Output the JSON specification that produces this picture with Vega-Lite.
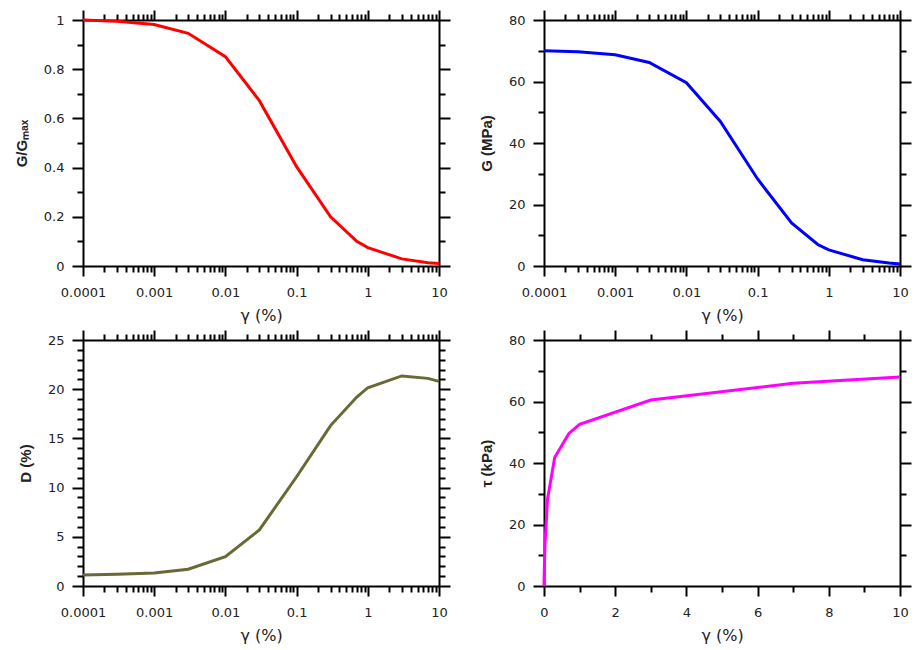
{
  "$schema": "https://vega.github.io/schema/vega-lite/v6.json",
  "padding": {"left": 14, "top": 9, "right": 8, "bottom": 5},
  "background": "white",
  "datasets": {
    "gg": [
      {"g": 0.0001, "r": 1.0}, {"g": 0.0003, "r": 0.995}, {"g": 0.001, "r": 0.982}, {"g": 0.003, "r": 0.946},
      {"g": 0.01, "r": 0.851}, {"g": 0.03, "r": 0.672}, {"g": 0.1, "r": 0.404}, {"g": 0.3, "r": 0.2},
      {"g": 0.7, "r": 0.1}, {"g": 1, "r": 0.075}, {"g": 3, "r": 0.029}, {"g": 7, "r": 0.0134}, {"g": 10, "r": 0.0097}
    ],
    "gm": [
      {"g": 0.0001, "G": 70.0}, {"g": 0.0003, "G": 69.7}, {"g": 0.001, "G": 68.7}, {"g": 0.003, "G": 66.2},
      {"g": 0.01, "G": 59.6}, {"g": 0.03, "G": 47.0}, {"g": 0.1, "G": 28.3}, {"g": 0.3, "G": 14.0},
      {"g": 0.7, "G": 7.0}, {"g": 1, "G": 5.25}, {"g": 3, "G": 2.03}, {"g": 7, "G": 0.94}, {"g": 10, "G": 0.68}
    ],
    "dd": [
      {"g": 0.0001, "D": 1.12}, {"g": 0.0003, "D": 1.2}, {"g": 0.001, "D": 1.32}, {"g": 0.003, "D": 1.7},
      {"g": 0.01, "D": 2.98}, {"g": 0.03, "D": 5.7}, {"g": 0.1, "D": 11.1}, {"g": 0.3, "D": 16.3},
      {"g": 0.7, "D": 19.2}, {"g": 1, "D": 20.15}, {"g": 3, "D": 21.35}, {"g": 7, "D": 21.1}, {"g": 10, "D": 20.8}
    ],
    "tt": [
      {"g": 0, "t": 0}, {"g": 0.001, "t": 0.69}, {"g": 0.003, "t": 1.99}, {"g": 0.01, "t": 5.96},
      {"g": 0.03, "t": 14.1}, {"g": 0.1, "t": 28.3}, {"g": 0.3, "t": 41.8}, {"g": 0.7, "t": 49.6},
      {"g": 1, "t": 52.6}, {"g": 3, "t": 60.5}, {"g": 7, "t": 65.9}, {"g": 10, "t": 68.0}
    ]
  },
  "columns": 2,
  "spacing": {"row": 74, "column": 105},
  "bounds": "flush",
  "concat": [
    {
      "width": 356, "height": 246,
      "data": {"name": "gg"},
      "layer": [
        {"mark": {"type": "line", "color": "#ff0000", "strokeWidth": 3},
         "encoding": {
           "x": {"field": "g", "type": "quantitative", "scale": {"type": "log", "domain": [0.0001, 10]},
                 "axis": {"orient": "bottom", "values": [0.0001, 0.001, 0.01, 0.1, 1, 10], "format": "~g", "tickSize": 10, "labelPadding": 10, "title": "γ (%)", "titleFontWeight": "normal", "titleFont": "DejaVu Sans", "titleFontSize": 16, "titlePadding": 8}},
           "y": {"field": "r", "type": "quantitative", "scale": {"domain": [0, 1]},
                 "axis": {"orient": "left", "values": [0, 0.2, 0.4, 0.6, 0.8, 1], "format": "~g", "tickSize": 11, "labelPadding": 8, "title": "G/Gₘₐₓ", "titlePadding": 14}}}},
        {"mark": {"type": "line", "strokeOpacity": 0},
         "encoding": {
           "x": {"field": "g", "type": "quantitative", "scale": {"type": "log", "domain": [0.0001, 10]},
                 "axis": {"orient": "bottom", "values": [0.0002,0.0003,0.0004,0.0005,0.0006,0.0007,0.0008,0.0009,0.002,0.003,0.004,0.005,0.006,0.007,0.008,0.009,0.02,0.03,0.04,0.05,0.06,0.07,0.08,0.09,0.2,0.3,0.4,0.5,0.6,0.7,0.8,0.9,2,3,4,5,6,7,8,9], "tickSize": 6, "labels": false, "domain": false, "title": null}},
           "y": {"field": "r", "type": "quantitative", "scale": {"domain": [0, 1]},
                 "axis": {"orient": "left", "values": [0.1, 0.3, 0.5, 0.7, 0.9], "tickSize": 6, "labels": false, "domain": false, "title": null}}}},
        {"mark": {"type": "line", "strokeOpacity": 0},
         "encoding": {
           "x": {"field": "g", "type": "quantitative", "scale": {"type": "log", "domain": [0.0001, 10]},
                 "axis": {"orient": "top", "values": [0.0001, 0.001, 0.01, 0.1, 1, 10], "tickSize": 10, "labels": false, "title": null}},
           "y": {"field": "r", "type": "quantitative", "scale": {"domain": [0, 1]},
                 "axis": {"orient": "right", "values": [0, 0.2, 0.4, 0.6, 0.8, 1], "tickSize": 11, "labels": false, "title": null}}}},
        {"mark": {"type": "line", "strokeOpacity": 0},
         "encoding": {
           "x": {"field": "g", "type": "quantitative", "scale": {"type": "log", "domain": [0.0001, 10]},
                 "axis": {"orient": "top", "values": [0.0002,0.0003,0.0004,0.0005,0.0006,0.0007,0.0008,0.0009,0.002,0.003,0.004,0.005,0.006,0.007,0.008,0.009,0.02,0.03,0.04,0.05,0.06,0.07,0.08,0.09,0.2,0.3,0.4,0.5,0.6,0.7,0.8,0.9,2,3,4,5,6,7,8,9], "tickSize": 6, "labels": false, "domain": false, "title": null}},
           "y": {"field": "r", "type": "quantitative", "scale": {"domain": [0, 1]},
                 "axis": {"orient": "right", "values": [0.1, 0.3, 0.5, 0.7, 0.9], "tickSize": 6, "labels": false, "domain": false, "title": null}}}}
      ],
      "resolve": {"axis": {"x": "independent", "y": "independent"}}
    },
    {
      "width": 356, "height": 246,
      "data": {"name": "gm"},
      "layer": [
        {"mark": {"type": "line", "color": "#0000ff", "strokeWidth": 3},
         "encoding": {
           "x": {"field": "g", "type": "quantitative", "scale": {"type": "log", "domain": [0.0001, 10]},
                 "axis": {"orient": "bottom", "values": [0.0001, 0.001, 0.01, 0.1, 1, 10], "format": "~g", "tickSize": 10, "labelPadding": 10, "title": "γ (%)", "titleFontWeight": "normal", "titleFont": "DejaVu Sans", "titleFontSize": 16, "titlePadding": 8}},
           "y": {"field": "G", "type": "quantitative", "scale": {"domain": [0, 80]},
                 "axis": {"orient": "left", "values": [0, 20, 40, 60, 80], "tickSize": 11, "labelPadding": 8, "title": "G (MPa)", "titlePadding": 14}}}},
        {"mark": {"type": "line", "strokeOpacity": 0},
         "encoding": {
           "x": {"field": "g", "type": "quantitative", "scale": {"type": "log", "domain": [0.0001, 10]},
                 "axis": {"orient": "bottom", "values": [0.0002,0.0003,0.0004,0.0005,0.0006,0.0007,0.0008,0.0009,0.002,0.003,0.004,0.005,0.006,0.007,0.008,0.009,0.02,0.03,0.04,0.05,0.06,0.07,0.08,0.09,0.2,0.3,0.4,0.5,0.6,0.7,0.8,0.9,2,3,4,5,6,7,8,9], "tickSize": 6, "labels": false, "domain": false, "title": null}},
           "y": {"field": "G", "type": "quantitative", "scale": {"domain": [0, 80]},
                 "axis": {"orient": "left", "values": [10, 30, 50, 70], "tickSize": 6, "labels": false, "domain": false, "title": null}}}},
        {"mark": {"type": "line", "strokeOpacity": 0},
         "encoding": {
           "x": {"field": "g", "type": "quantitative", "scale": {"type": "log", "domain": [0.0001, 10]},
                 "axis": {"orient": "top", "values": [0.0001, 0.001, 0.01, 0.1, 1, 10], "tickSize": 10, "labels": false, "title": null}},
           "y": {"field": "G", "type": "quantitative", "scale": {"domain": [0, 80]},
                 "axis": {"orient": "right", "values": [0, 20, 40, 60, 80], "tickSize": 11, "labels": false, "title": null}}}},
        {"mark": {"type": "line", "strokeOpacity": 0},
         "encoding": {
           "x": {"field": "g", "type": "quantitative", "scale": {"type": "log", "domain": [0.0001, 10]},
                 "axis": {"orient": "top", "values": [0.0002,0.0003,0.0004,0.0005,0.0006,0.0007,0.0008,0.0009,0.002,0.003,0.004,0.005,0.006,0.007,0.008,0.009,0.02,0.03,0.04,0.05,0.06,0.07,0.08,0.09,0.2,0.3,0.4,0.5,0.6,0.7,0.8,0.9,2,3,4,5,6,7,8,9], "tickSize": 6, "labels": false, "domain": false, "title": null}},
           "y": {"field": "G", "type": "quantitative", "scale": {"domain": [0, 80]},
                 "axis": {"orient": "right", "values": [10, 30, 50, 70], "tickSize": 6, "labels": false, "domain": false, "title": null}}}}
      ],
      "resolve": {"axis": {"x": "independent", "y": "independent"}}
    },
    {
      "width": 356, "height": 246,
      "data": {"name": "dd"},
      "layer": [
        {"mark": {"type": "line", "color": "#696935", "strokeWidth": 3},
         "encoding": {
           "x": {"field": "g", "type": "quantitative", "scale": {"type": "log", "domain": [0.0001, 10]},
                 "axis": {"orient": "bottom", "values": [0.0001, 0.001, 0.01, 0.1, 1, 10], "format": "~g", "tickSize": 10, "labelPadding": 10, "title": "γ (%)", "titleFontWeight": "normal", "titleFont": "DejaVu Sans", "titleFontSize": 16, "titlePadding": 8}},
           "y": {"field": "D", "type": "quantitative", "scale": {"domain": [0, 25]},
                 "axis": {"orient": "left", "values": [0, 5, 10, 15, 20, 25], "tickSize": 11, "labelPadding": 8, "title": "D (%)", "titlePadding": 14}}}},
        {"mark": {"type": "line", "strokeOpacity": 0},
         "encoding": {
           "x": {"field": "g", "type": "quantitative", "scale": {"type": "log", "domain": [0.0001, 10]},
                 "axis": {"orient": "bottom", "values": [0.0002,0.0003,0.0004,0.0005,0.0006,0.0007,0.0008,0.0009,0.002,0.003,0.004,0.005,0.006,0.007,0.008,0.009,0.02,0.03,0.04,0.05,0.06,0.07,0.08,0.09,0.2,0.3,0.4,0.5,0.6,0.7,0.8,0.9,2,3,4,5,6,7,8,9], "tickSize": 6, "labels": false, "domain": false, "title": null}},
           "y": {"field": "D", "type": "quantitative", "scale": {"domain": [0, 25]},
                 "axis": {"orient": "left", "values": [1,2,3,4,6,7,8,9,11,12,13,14,16,17,18,19,21,22,23,24], "tickSize": 6, "labels": false, "domain": false, "title": null}}}},
        {"mark": {"type": "line", "strokeOpacity": 0},
         "encoding": {
           "x": {"field": "g", "type": "quantitative", "scale": {"type": "log", "domain": [0.0001, 10]},
                 "axis": {"orient": "top", "values": [0.0001, 0.001, 0.01, 0.1, 1, 10], "tickSize": 10, "labels": false, "title": null}},
           "y": {"field": "D", "type": "quantitative", "scale": {"domain": [0, 25]},
                 "axis": {"orient": "right", "values": [0, 5, 10, 15, 20, 25], "tickSize": 11, "labels": false, "title": null}}}},
        {"mark": {"type": "line", "strokeOpacity": 0},
         "encoding": {
           "x": {"field": "g", "type": "quantitative", "scale": {"type": "log", "domain": [0.0001, 10]},
                 "axis": {"orient": "top", "values": [0.0002,0.0003,0.0004,0.0005,0.0006,0.0007,0.0008,0.0009,0.002,0.003,0.004,0.005,0.006,0.007,0.008,0.009,0.02,0.03,0.04,0.05,0.06,0.07,0.08,0.09,0.2,0.3,0.4,0.5,0.6,0.7,0.8,0.9,2,3,4,5,6,7,8,9], "tickSize": 6, "labels": false, "domain": false, "title": null}},
           "y": {"field": "D", "type": "quantitative", "scale": {"domain": [0, 25]},
                 "axis": {"orient": "right", "values": [1,2,3,4,6,7,8,9,11,12,13,14,16,17,18,19,21,22,23,24], "tickSize": 6, "labels": false, "domain": false, "title": null}}}}
      ],
      "resolve": {"axis": {"x": "independent", "y": "independent"}}
    },
    {
      "width": 356, "height": 246,
      "data": {"name": "tt"},
      "layer": [
        {"mark": {"type": "line", "color": "#ff00ff", "strokeWidth": 3},
         "encoding": {
           "x": {"field": "g", "type": "quantitative", "scale": {"domain": [0, 10]},
                 "axis": {"orient": "bottom", "values": [0, 2, 4, 6, 8, 10], "tickSize": 10, "labelPadding": 10, "title": "γ (%)", "titleFontWeight": "normal", "titleFont": "DejaVu Sans", "titleFontSize": 16, "titlePadding": 8}},
           "y": {"field": "t", "type": "quantitative", "scale": {"domain": [0, 80]},
                 "axis": {"orient": "left", "values": [0, 20, 40, 60, 80], "tickSize": 11, "labelPadding": 8, "title": "τ (kPa)", "titlePadding": 14}}}},
        {"mark": {"type": "line", "strokeOpacity": 0},
         "encoding": {
           "x": {"field": "g", "type": "quantitative", "scale": {"domain": [0, 10]},
                 "axis": {"orient": "bottom", "values": [1, 3, 5, 7, 9], "tickSize": 6, "labels": false, "domain": false, "title": null}},
           "y": {"field": "t", "type": "quantitative", "scale": {"domain": [0, 80]},
                 "axis": {"orient": "left", "values": [10, 30, 50, 70], "tickSize": 6, "labels": false, "domain": false, "title": null}}}},
        {"mark": {"type": "line", "strokeOpacity": 0},
         "encoding": {
           "x": {"field": "g", "type": "quantitative", "scale": {"domain": [0, 10]},
                 "axis": {"orient": "top", "values": [0, 2, 4, 6, 8, 10], "tickSize": 10, "labels": false, "title": null}},
           "y": {"field": "t", "type": "quantitative", "scale": {"domain": [0, 80]},
                 "axis": {"orient": "right", "values": [0, 20, 40, 60, 80], "tickSize": 11, "labels": false, "title": null}}}},
        {"mark": {"type": "line", "strokeOpacity": 0},
         "encoding": {
           "x": {"field": "g", "type": "quantitative", "scale": {"domain": [0, 10]},
                 "axis": {"orient": "top", "values": [1, 3, 5, 7, 9], "tickSize": 6, "labels": false, "domain": false, "title": null}},
           "y": {"field": "t", "type": "quantitative", "scale": {"domain": [0, 80]},
                 "axis": {"orient": "right", "values": [10, 30, 50, 70], "tickSize": 6, "labels": false, "domain": false, "title": null}}}}
      ],
      "resolve": {"axis": {"x": "independent", "y": "independent"}}
    }
  ],
  "config": {
    "view": {"stroke": null},
    "axis": {
      "grid": false,
      "domainColor": "#000", "domainWidth": 2,
      "tickColor": "#000", "tickWidth": 2,
      "labelFont": "DejaVu Sans", "labelFontSize": 13, "labelColor": "#222",
      "labelFlush": false, "labelOverlap": false,
      "titleFont": "Liberation Sans", "titleFontSize": 15, "titleColor": "#222", "titleFontWeight": "bold"
    }
  }
}
